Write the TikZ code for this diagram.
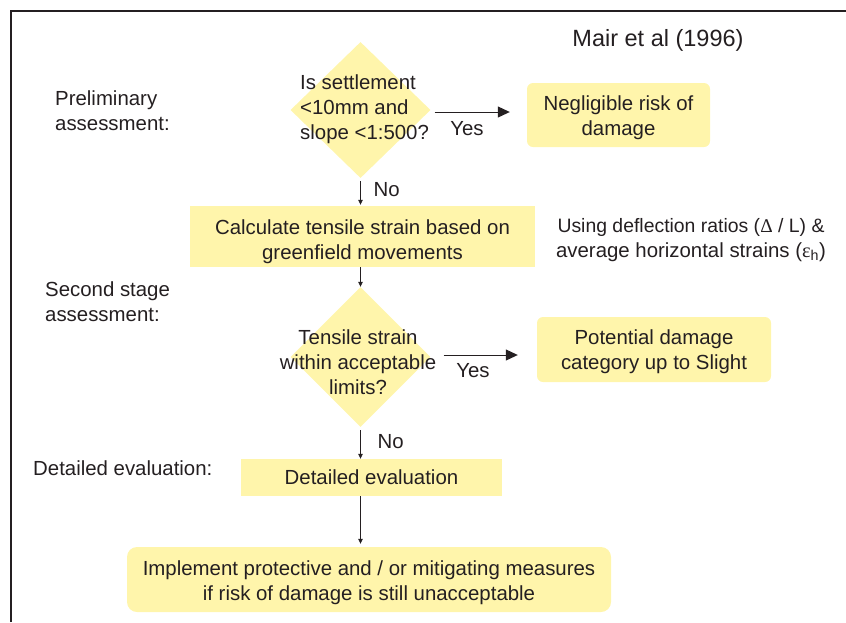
\documentclass[tikz,border=0pt]{standalone}
\usepackage{fontspec}
\setmainfont{Liberation Sans}
\newfontfamily\grkfont{Liberation Serif}
\usetikzlibrary{shapes.geometric,arrows.meta}

\definecolor{boxfill}{rgb}{1,0.96,0.67}
\definecolor{ink}{rgb}{0.14,0.12,0.13}

\begin{document}
\begin{tikzpicture}[x=1pt, y=-1pt,
    every node/.style={text=ink, font=\fontsize{20.4}{25}\selectfont},
    plainbox/.style={fill=boxfill, inner sep=0pt},
    roundbox/.style={plainbox, rounded corners=6pt},
    decision/.style={diamond, fill=boxfill, inner sep=0pt},
    sidelabel/.style={align=left, anchor=west, inner sep=0pt},
    bigarrow/.style={draw=ink, line width=1pt, -{Triangle[length=12pt,width=11pt]}},
    smallarrow/.style={draw=ink, line width=0.8pt, -{Triangle[length=5pt,width=4.5pt]}}]
            \useasboundingbox (0,0) rectangle (846,622);
            \draw[ink, line width=1.2pt] (11,622) -- (11,11) -- (846,11);

            \node (ref) at (658,40) {\fontsize{23.5}{25}\selectfont Mair et al (1996)};

            \node[sidelabel] (prelim) at (55,111) {Preliminary\\assessment:};
            \node[sidelabel] (second) at (45,302) {Second stage\\assessment:};
            \node[sidelabel] (detlabel) at (33,468) {Detailed evaluation:};

            \node[decision, minimum width=140pt, minimum height=136pt] (d1) at (360.5,110) {};
            \node[align=left, anchor=west, inner sep=0pt] (d1text) at (300,109) {Is settlement\\<10mm and\\slope <1:500?};
            \node[roundbox, minimum width=183pt, minimum height=64pt] (neg) at (618.5,115) {};
            \node[align=center] (negtext) at (618.5,117.5) {Negligible risk of\\damage};

            \node[plainbox, minimum width=345pt, minimum height=61pt] (calc) at (362.5,236.5) {};
            \node[align=center] (calctext) at (362.5,242) {Calculate tensile strain based on\\greenfield movements};
            \node[align=center] (using) at (691,240) {\fontsize{19.4}{23}\selectfont Using deflection ratios ({\grkfont Δ} / L) \&\\average horizontal strains ({\grkfont ε}\textsubscript{h})};

            \node[decision, minimum width=140pt, minimum height=140pt] (d2) at (360.5,357) {};
            \node[align=center, inner sep=0pt] (d2text) at (358,362) {Tensile strain\\within acceptable\\limits?};
            \node[roundbox, minimum width=234pt, minimum height=65pt] (pot) at (654,349.5) {};
            \node[align=center] (pottext) at (654,351.5) {Potential damage\\category up to Slight};

            \node[plainbox, minimum width=261pt, minimum height=37pt] (det) at (371.5,477.5) {};
            \node (dettext) at (371.5,477.5) {Detailed evaluation};
            \node[roundbox, rounded corners=10pt, minimum width=484pt, minimum height=65pt] (impl) at (369,579.5) {};
            \node[align=center] (impltext) at (369,582.5) {Implement protective and / or mitigating measures\\if risk of damage is still unacceptable};

            \draw[bigarrow, shorten <=4pt, shorten >=17pt] ([yshift=-2pt]d1.east) -- ([yshift=-2pt]d1.east -| neg.west);
            \node (yes1) at (467,129) {Yes};
            \draw[smallarrow, shorten <=3pt, shorten >=1pt] (d1.south) -- (d1.south |- calc.north);
            \node[anchor=west] (no1) at (370,190) {No};

            \draw[smallarrow] (calc.south -| d2.north) -- (d2.north);

            \draw[bigarrow, shorten <=13pt, shorten >=19pt] ([yshift=2pt]d2.east) -- ([yshift=2pt]d2.east -| pot.west);
            \node (yes2) at (473,371) {Yes};
            \draw[smallarrow, shorten <=3pt] (d2.south) -- (d2.south |- det.north);
            \node[anchor=west] (no2) at (374,442) {No};

            \draw[smallarrow, shorten >=3pt] (det.south -| d2.south) -- (impl.north -| d2.south);
        \end{tikzpicture}
\end{document}
